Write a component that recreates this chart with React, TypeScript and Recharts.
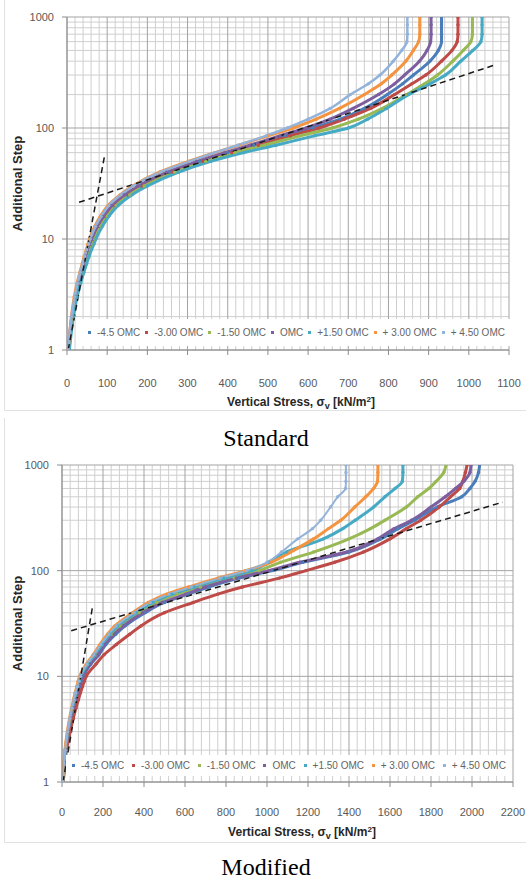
import React from 'react';
import { LineChart, Line, XAxis, YAxis, CartesianGrid, Legend } from 'recharts';

// additional step counts (log y axis) shared by every curve
const steps = [1, 2, 3, 4, 5, 6, 7, 8, 9, 10, 13, 16, 20, 25, 30, 40, 50, 60, 70, 85, 100, 120, 150, 200, 250, 300, 400, 500, 600, 700, 850, 1000];

const seriesNames = ['-4.5 OMC', '-3.00 OMC', '-1.50 OMC', 'OMC', '+1.50 OMC', '+ 3.00 OMC', '+ 4.50 OMC'];
const seriesColors = ['#4a7ebb', '#be4b48', '#98b954', '#7d5fa0', '#46aac5', '#f59440', '#93b3db'];

// Standard compaction: vertical stress (kN/m²) at each step
const stdMinus45 = [4, 13, 22, 29, 36, 43, 48, 53, 58, 63, 78, 93, 115, 147, 182, 255, 330, 400, 465, 543, 612, 680, 740, 797, 835, 862, 903, 924, 932, 932, 932, 932];
const stdMinus30 = [5, 14, 23, 31, 38, 45, 51, 56, 61, 66, 81, 97, 119, 152, 187, 262, 338, 410, 476, 556, 628, 690, 755, 815, 858, 893, 932, 958, 971, 973, 973, 973];
const stdMinus15 = [5, 15, 24, 32, 40, 47, 53, 58, 64, 69, 84, 100, 122, 156, 192, 268, 345, 418, 490, 580, 660, 725, 785, 845, 890, 922, 960, 986, 1005, 1009, 1009, 1009];
const stdOmc = [4, 12, 21, 28, 35, 41, 46, 51, 56, 61, 75, 90, 111, 142, 176, 248, 322, 392, 455, 530, 595, 655, 712, 775, 815, 840, 877, 896, 905, 906, 906, 906];
const stdPlus15 = [6, 16, 25, 34, 42, 49, 55, 61, 67, 72, 88, 104, 127, 162, 200, 278, 358, 440, 520, 615, 700, 748, 795, 850, 903, 942, 980, 1010, 1030, 1033, 1033, 1033];
const stdPlus30 = [3, 11, 18, 25, 32, 38, 43, 48, 52, 56, 69, 83, 102, 132, 163, 230, 302, 368, 428, 500, 563, 620, 678, 740, 782, 808, 843, 862, 875, 878, 878, 878];
const stdPlus45 = [3, 11, 19, 26, 33, 39, 44, 49, 54, 58, 71, 85, 104, 134, 165, 232, 305, 368, 425, 495, 548, 600, 655, 705, 750, 779, 812, 833, 846, 847, 847, 847];

// Modified compaction
const modMinus45 = [6, 19, 32, 44, 56, 67, 77, 87, 96, 104, 140, 180, 214, 262, 308, 405, 500, 615, 715, 865, 1025, 1175, 1400, 1555, 1640, 1720, 1830, 1950, 1990, 2015, 2032, 2037];
const modMinus30 = [6, 22, 40, 55, 68, 80, 90, 100, 109, 118, 165, 205, 265, 330, 385, 500, 640, 760, 880, 1060, 1190, 1330, 1470, 1600, 1680, 1750, 1840, 1895, 1940, 1955, 1968, 1976];
const modMinus15 = [5, 17, 29, 41, 52, 62, 71, 80, 88, 96, 130, 166, 202, 243, 282, 376, 462, 560, 675, 840, 960, 1065, 1227, 1400, 1505, 1575, 1680, 1735, 1790, 1825, 1862, 1873];
const modOmc = [5, 18, 30, 42, 54, 65, 75, 84, 92, 100, 136, 175, 208, 255, 300, 395, 490, 605, 700, 850, 1010, 1160, 1390, 1540, 1620, 1705, 1800, 1870, 1920, 1960, 1990, 1995];
const modPlus15 = [5, 16, 28, 39, 50, 60, 69, 77, 85, 92, 125, 160, 195, 234, 272, 362, 442, 535, 645, 790, 925, 1010, 1095, 1275, 1370, 1430, 1520, 1575, 1625, 1660, 1663, 1663];
const modPlus30 = [4, 14, 26, 37, 47, 56, 64, 72, 79, 86, 118, 152, 185, 222, 258, 345, 420, 510, 618, 760, 895, 1020, 1115, 1227, 1300, 1360, 1428, 1482, 1520, 1539, 1541, 1541];
const modPlus45 = [4, 15, 27, 38, 48, 58, 66, 74, 82, 89, 121, 155, 189, 227, 264, 352, 430, 522, 630, 770, 900, 1000, 1070, 1150, 1222, 1262, 1310, 1345, 1383, 1385, 1385, 1385];

// dashed tangent lines (stress, step)
const stdSteepStress = [3, 93];
const stdSteepSteps = [1, 55];
const stdFlatStress = [30, 1065];
const stdFlatSteps = [21.4, 370];
const modSteepStress = [5, 150];
const modSteepSteps = [1, 47];
const modFlatStress = [45, 2150];
const modFlatSteps = [27, 445];

const stepTicks = [1, 10, 100, 1000];
const stdStressTicks = [0, 100, 200, 300, 400, 500, 600, 700, 800, 900, 1000, 1100];
const modStressTicks = [0, 200, 400, 600, 800, 1000, 1200, 1400, 1600, 1800, 2000, 2200];

const FONT = '"Liberation Sans", Arial, sans-serif';

const toPoints = (xs: number[], ys: number[]) => xs.map((x, i) => ({ x, y: ys[i] }));

const minorSteps = [1, 10, 100].flatMap((d) => [2, 3, 4, 5, 6, 7, 8, 9].map((m) => m * d));
const minorStress = (ticks: number[], parts: number) => {
  const out: number[] = [];
  for (let i = 0; i < ticks.length - 1; i++) {
    const w = (ticks[i + 1] - ticks[i]) / parts;
    for (let k = 1; k < parts; k++) out.push(ticks[i] + k * w);
  }
  return out;
};

type PanelProps = {
  top: number;
  margin: { top: number; right: number; bottom: number; left: number };
  yAxisWidth: number;
  series: number[][];
  widths: number[];
  xTicks: number[];
  minorParts: number;
  steep: [number[], number[]];
  flat: [number[], number[]];
  tickGap: number;
  titleX: number;
  titleY: number;
  legendBox: { left: number; top: number; width: number; height: number; padL: number; padR: number };
  caption: string;
  captionTop: number;
  borderBottom: number;
};

const CHART_H = 420;

function LegendRow({ padL, padR }: { padL: number; padR: number }) {
  return (
    <div
      style={{
        display: 'flex',
        alignItems: 'center',
        justifyContent: 'space-between',
        height: '100%',
        boxSizing: 'border-box',
        paddingLeft: padL,
        paddingRight: padR,
        fontFamily: FONT,
        fontSize: 10,
        color: '#646464',
        whiteSpace: 'nowrap',
      }}
    >
      {seriesNames.map((name, i) => (
        <span key={name} style={{ display: 'flex', alignItems: 'center' }}>
          <span style={{ width: 3, height: 3, background: seriesColors[i], marginRight: 6 }} />
          {name}
        </span>
      ))}
    </div>
  );
}

function Panel(p: PanelProps) {
  const plotTop = p.margin.top;
  const plotBottom = CHART_H - p.margin.bottom - 40;
  const midY = (plotTop + plotBottom) / 2;
  const xMax = p.xTicks[p.xTicks.length - 1];

  return (
    <div style={{ position: 'absolute', left: 0, top: p.top, width: 526, height: 430 }}>
      <div
        style={{
          position: 'absolute',
          left: 4,
          top: -30,
          width: 530,
          height: p.borderBottom + 30,
          borderLeft: '1px solid #e2e2e2',
          borderBottom: '1px solid #e2e2e2',
        }}
      />
      <LineChart width={526} height={CHART_H} margin={p.margin} style={{ position: 'absolute', left: 0, top: 0 }}>
        <CartesianGrid
          horizontalValues={minorSteps}
          verticalValues={minorStress(p.xTicks, p.minorParts)}
          stroke="#cfcfcf"
          fill="none"
        />
        <CartesianGrid horizontalValues={stepTicks} verticalValues={p.xTicks} stroke="#a3a3a3" fill="none" />
        <XAxis
          type="number"
          dataKey="x"
          domain={[0, xMax]}
          ticks={p.xTicks}
          interval={0}
          height={40}
          tickSize={5}
          tickMargin={p.tickGap}
          stroke="#8c8c8c"
          tick={{ fill: '#595959', fontSize: 11, fontFamily: FONT }}
          label={{
            content: () => (
              <text x={p.titleX} y={p.titleY} textAnchor="middle" fontFamily={FONT} fontSize={12} fontWeight="bold" fill="#262626">
                Vertical Stress, σ
                <tspan dy={3} fontSize={9}>v</tspan>
                <tspan dy={-3}> [kN/m</tspan>
                <tspan dy={-4} fontSize={8}>2</tspan>
                <tspan dy={4}>]</tspan>
              </text>
            ),
          }}
        />
        <YAxis
          type="number"
          scale="log"
          domain={[1, 1000]}
          allowDataOverflow
          ticks={stepTicks}
          interval={0}
          width={p.yAxisWidth}
          tickSize={5}
          tickMargin={8}
          stroke="#8c8c8c"
          tick={{ fill: '#595959', fontSize: 11, fontFamily: FONT }}
          label={{
            content: () => (
              <text
                x={21.5}
                y={midY}
                transform={`rotate(-90 21.5 ${midY})`}
                textAnchor="middle"
                fontFamily={FONT}
                fontSize={13}
                fontWeight="bold"
                fill="#262626"
              >
                Additional Step
              </text>
            ),
          }}
        />
        {p.series.map((xs, i) => (
          <Line
            key={seriesNames[i]}
            name={seriesNames[i]}
            data={toPoints(xs, steps)}
            dataKey="y"
            type="monotoneY"
            stroke={seriesColors[i]}
            strokeWidth={p.widths[i]}
            dot={{ r: 1.7, fill: seriesColors[i], stroke: 'none' }}
            activeDot={false}
            isAnimationActive={false}
          />
        ))}
        <Line
          data={toPoints(p.steep[0], p.steep[1])}
          dataKey="y"
          type="linear"
          stroke="#1a1a1a"
          strokeWidth={1.5}
          strokeDasharray="6 4"
          dot={false}
          activeDot={false}
          legendType="none"
          isAnimationActive={false}
        />
        <Line
          data={toPoints(p.flat[0], p.flat[1])}
          dataKey="y"
          type="linear"
          stroke="#1a1a1a"
          strokeWidth={1.5}
          strokeDasharray="6 4"
          dot={false}
          activeDot={false}
          legendType="none"
          isAnimationActive={false}
        />
        <Legend
          layout="horizontal"
          verticalAlign="middle"
          align="center"
          wrapperStyle={{
            left: p.legendBox.left,
            top: p.legendBox.top,
            width: p.legendBox.width,
            height: p.legendBox.height,
            background: '#fff',
          }}
          content={() => <LegendRow padL={p.legendBox.padL} padR={p.legendBox.padR} />}
        />
      </LineChart>
      <div
        style={{
          position: 'absolute',
          left: 3,
          top: p.captionTop,
          width: 526,
          textAlign: 'center',
          fontFamily: '"Liberation Serif", "Times New Roman", serif',
          fontSize: 24,
          lineHeight: '24px',
          color: '#000',
        }}
      >
        {p.caption}
      </div>
    </div>
  );
}

export default function App() {
  return (
    <div style={{ position: 'absolute', left: 0, top: 0, width: 526, height: 880, background: '#fff', overflow: 'hidden' }}>
      <Panel
        top={0}
        margin={{ top: 17, right: 17, bottom: 30, left: 0 }}
        yAxisWidth={67}
        series={[stdMinus45, stdMinus30, stdMinus15, stdOmc, stdPlus15, stdPlus30, stdPlus45]}
        widths={[3, 3, 3, 3, 3, 3, 2.5]}
        xTicks={stdStressTicks}
        minorParts={5}
        steep={[stdSteepStress, stdSteepSteps]}
        flat={[stdFlatStress, stdFlatSteps]}
        tickGap={24}
        titleX={301}
        titleY={405.5}
        legendBox={{ left: 80, top: 319, width: 430, height: 27, padL: 8, padR: 5 }}
        caption="Standard"
        captionTop={426}
        borderBottom={410}
      />
      <Panel
        top={448}
        margin={{ top: 17, right: 13, bottom: 46, left: 0 }}
        yAxisWidth={62}
        series={[modMinus45, modMinus30, modMinus15, modOmc, modPlus15, modPlus30, modPlus45]}
        widths={[3, 3, 3, 3, 3, 3, 2]}
        xTicks={modStressTicks}
        minorParts={5}
        steep={[modSteepStress, modSteepSteps]}
        flat={[modFlatStress, modFlatSteps]}
        tickGap={21}
        titleX={302}
        titleY={388}
        legendBox={{ left: 66, top: 307, width: 446, height: 21, padL: 6, padR: 6 }}
        caption="Modified"
        captionTop={407}
        borderBottom={394}
      />
    </div>
  );
}
